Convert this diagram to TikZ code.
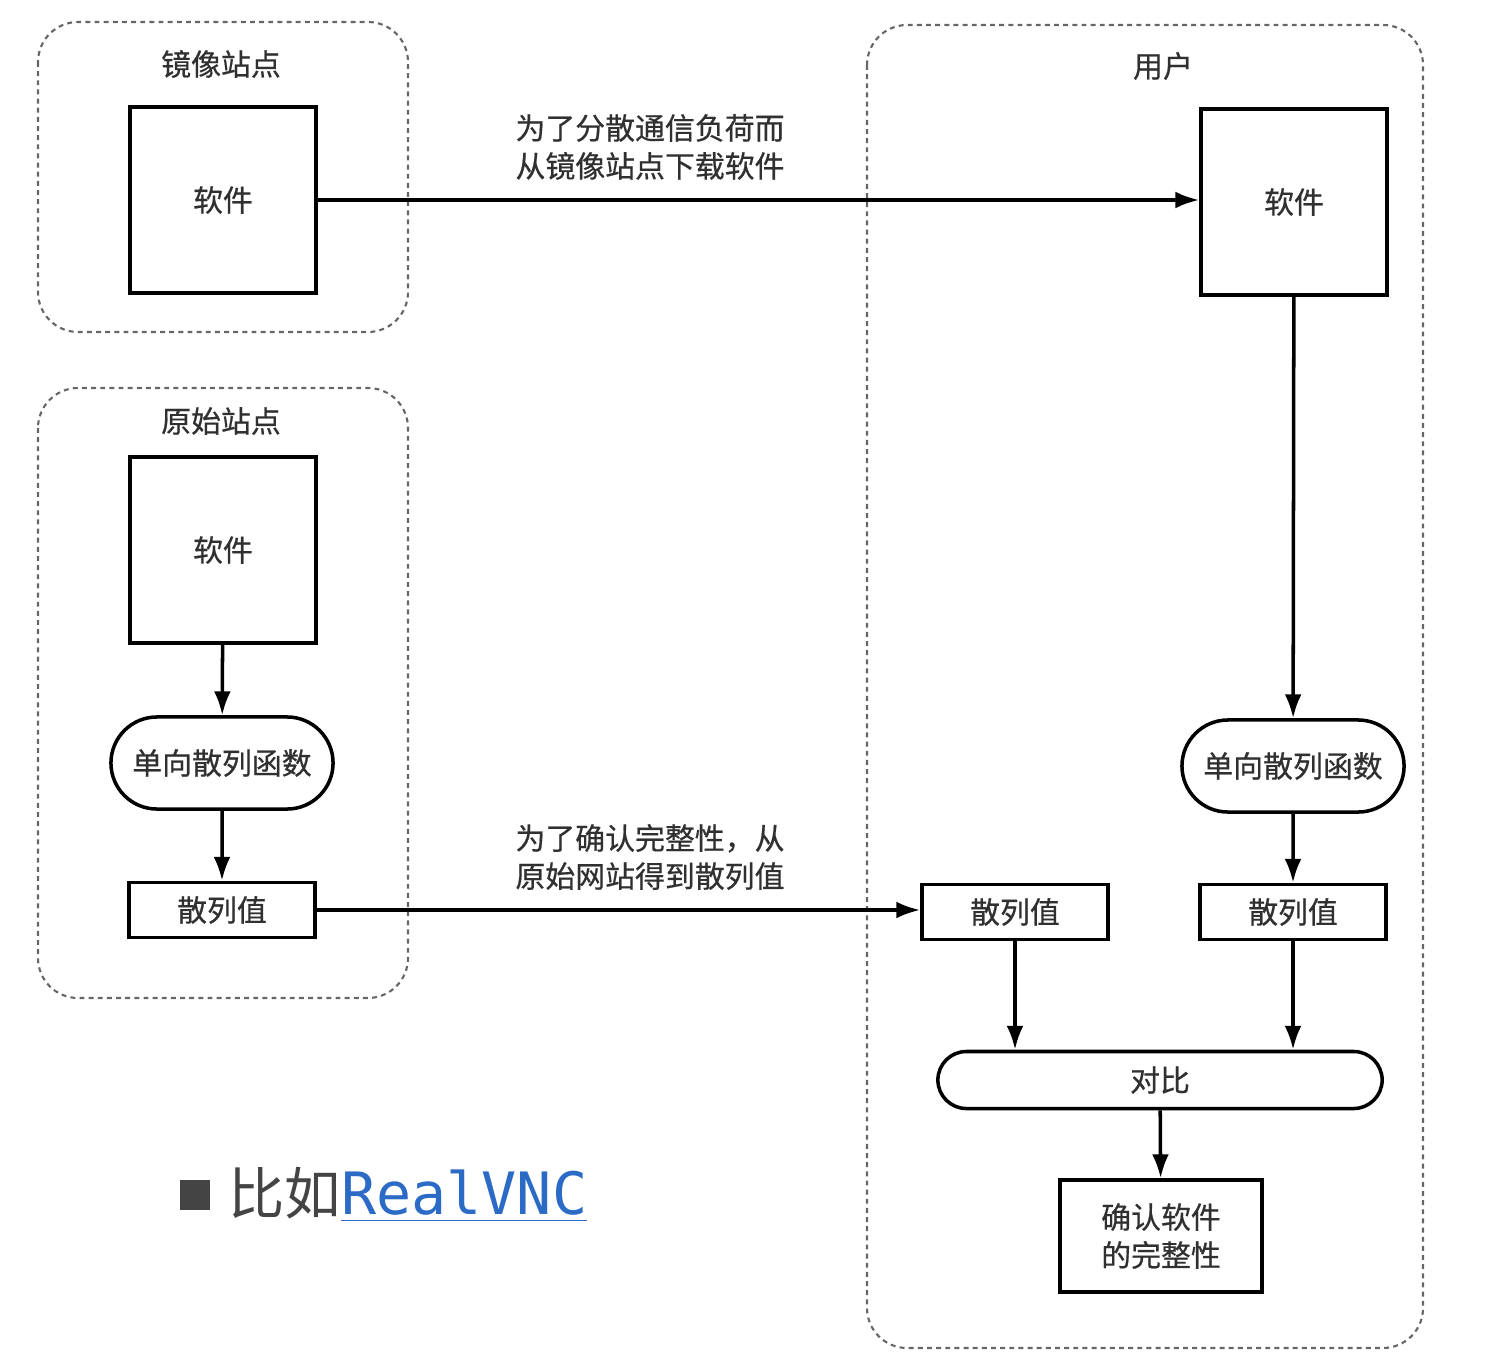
\documentclass[tikz,border=0pt]{standalone}
\usepackage{fontspec}
\setmainfont{Noto Sans CJK SC}[FakeBold=0.6]
\setmonofont{DejaVu Sans Mono}
\usetikzlibrary{arrows.meta,shapes.misc}

\definecolor{ink}{HTML}{303030}
\definecolor{linkblue}{HTML}{2B6BC6}
\definecolor{bullet}{HTML}{444444}

\begin{document}
\begin{tikzpicture}[x=0.01cm,y=-0.01cm,>={Latex[length=6.8pt,width=4.8pt]},
  font=\fontsize{8.5}{10.8}\selectfont,
  box/.style={draw,line width=1pt,minimum width=1.86cm,minimum height=1.86cm,inner sep=0pt,text=ink},
  hbox/.style={box,minimum height=0.55cm},
  pill/.style={draw,rounded rectangle,line width=1pt,minimum width=2.22cm,minimum height=0.92cm,inner sep=0pt,text=ink},
  grp/.style={draw=black!60,line width=0.6pt,dash pattern=on 1.4pt off 1.2pt,rounded corners=0.4cm},
  lbl/.style={text=ink,align=center,inner sep=0pt},
  flow/.style={->,line width=1pt}]

\useasboundingbox (0,0) rectangle (1492,1358);

% groups
\draw[grp] (38,22) rectangle (408,332);
\draw[grp] (38,388) rectangle (408,998);
\draw[grp] (867,25) rectangle (1423,1348);
\node[lbl] (tm) at (221,64) {镜像站点};
\node[lbl] (to) at (221,421) {原始站点};
\node[lbl] (tu) at (1163,66) {用户};

% mirror site
\node[box] (ms) at (223,200) {软件};

% original site
\node[box]  (os) at (223,550) {软件};
\node[pill] (of) at (222,763) {单向散列函数};
\node[hbox] (oh) at (222,910) {散列值};

% user
\node[box]  (us) at (1294,202) {软件};
\node[pill] (uf) at (1293,766) {单向散列函数};
\node[hbox] (rh) at (1293,912) {散列值};
\node[hbox] (lh) at (1015,912) {散列值};
\node[pill,minimum width=4.44cm,minimum height=0.57cm] (cmp) at (1160,1080) {对比};
\node[box,minimum width=2.02cm,minimum height=1.12cm,align=center] (ok) at (1161,1236) {确认软件\\的完整性};

% labels
\node[lbl] (t1) at (650,147) {为了分散通信负荷而\\从镜像站点下载软件};
\node[lbl] (t2) at (650,857) {为了确认完整性，从\\原始网站得到散列值};

% connectors
\draw[flow] (ms.east) -- (ms.east -| us.west);
\draw[flow] (os) -- (of);
\draw[flow] (of) -- (oh);
\draw[flow] (oh.east) -- (oh.east -| lh.west);
\draw[flow] (us) -- (uf);
\draw[flow] (uf) -- (rh);
\draw[flow] (lh.south) -- (lh.south |- cmp.north);
\draw[flow] (rh.south) -- (rh.south |- cmp.north);
\draw[flow] (cmp) -- (ok);

% bottom note
\node[fill=bullet,minimum size=0.3cm,inner sep=0pt] (sq) at (195,1195) {};
\node[anchor=west,inner sep=0pt,font=\fontsize{16}{18}\selectfont] (note) at (228,1195)
  {\textcolor{bullet}{\fontspec{Noto Sans CJK SC}比如}\textcolor{linkblue}{\ttfamily\fontsize{16.6}{18}\selectfont\underline{RealVNC}}};

\end{tikzpicture}
\end{document}
